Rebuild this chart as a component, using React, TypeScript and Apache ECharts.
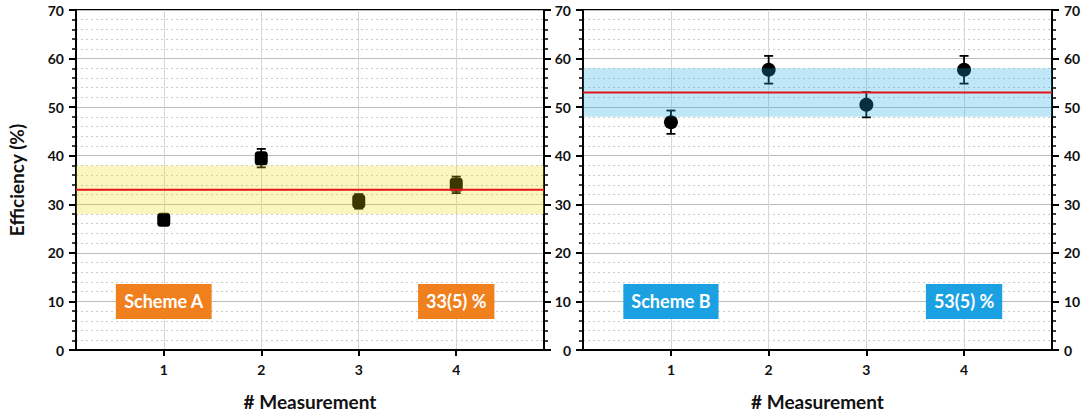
import React, { useEffect, useRef } from "react";
import * as echarts from "echarts";

const categories = [1, 2, 3, 4];
const schemeAValues = [26.8, 39.5, 30.6, 34.0];
const schemeAErrors = [0.8, 1.9, 1.5, 1.7];
const schemeBValues = [46.9, 57.7, 50.5, 57.7];
const schemeBErrors = [2.4, 2.85, 2.6, 2.85];
const schemeAMean = 33;
const schemeABand = [28, 38];
const schemeBMean = 53;
const schemeBBand = [48, 58];
const schemeALabels = ["Scheme A", "33(5) %"];
const schemeBLabels = ["Scheme B", "53(5) %"];
const yTicks = [0, 10, 20, 30, 40, 50, 60, 70];
const X_MIN = 0.1;
const X_MAX = 4.9;

const FONT = "Lato, 'Open Sans', sans-serif";

export default function App() {
  const ref = useRef<HTMLDivElement>(null);
  useEffect(() => {
    const chart = echarts.init(ref.current!, null, { renderer: "svg" });

    const yAxisBase = (gridIndex: number, position: string, showLabels: boolean, withName: boolean) => ({
      type: "value",
      gridIndex,
      position,
      min: yTicks[0],
      max: yTicks[yTicks.length - 1],
      interval: 10,
      name: withName ? "Efficiency (%)" : "",
      nameLocation: "middle",
      nameGap: 50,
      nameTextStyle: { fontFamily: FONT, fontWeight: "bold", fontSize: 19, color: "#111" },
      axisLine: { show: true, lineStyle: { color: "#000", width: 2 } },
      axisTick: { show: true, inside: false, length: 7, lineStyle: { color: "#000", width: 2 } },
      minorTick: { show: true, splitNumber: 5, length: 4, lineStyle: { color: "#000", width: 1.5 } },
      axisLabel: {
        show: showLabels,
        margin: 12,
        fontFamily: FONT,
        fontWeight: "bold",
        fontSize: 14,
        color: "#111",
      },
      splitLine: position === "left" ? { show: true, lineStyle: { color: "#bdbdbd", width: 1 } } : { show: false },
      minorSplitLine: position === "left" ? { show: true, lineStyle: { color: "#cccccc", width: 1, type: [2, 3] } } : { show: false },
    });

    const xAxisBase = (gridIndex: number) => ({
      type: "value",
      gridIndex,
      min: X_MIN,
      max: X_MAX,
      name: "# Measurement",
      nameLocation: "middle",
      nameGap: 42,
      nameTextStyle: { fontFamily: FONT, fontWeight: "bold", fontSize: 19, color: "#111" },
      axisLine: { show: true, onZero: false, lineStyle: { color: "#000", width: 2 } },
      axisTick: { show: true, inside: false, length: 6, customValues: categories, lineStyle: { color: "#000", width: 2 } },
      axisLabel: {
        customValues: categories,
        margin: 12,
        fontFamily: FONT,
        fontWeight: "bold",
        fontSize: 14,
        color: "#111",
      },
      splitLine: { show: true, lineStyle: { color: "#d6d6d6", width: 1 } },
      minorTick: { show: false },
    });

    const errorSeries = (idx: number, values: number[], errs: number[]) => ({
      type: "custom",
      xAxisIndex: idx,
      yAxisIndex: idx * 2,
      z: 2,
      silent: true,
      data: categories.map((c, i) => [c, values[i], values[i] - errs[i], values[i] + errs[i]]),
      renderItem: (params: any, api: any) => {
        const x = api.value(0);
        const lo = api.coord([x, api.value(2)]);
        const hi = api.coord([x, api.value(3)]);
        const half = 4.5;
        const style = { stroke: "#000", lineWidth: 1.8 };
        return {
          type: "group",
          children: [
            { type: "line", shape: { x1: lo[0], y1: lo[1], x2: hi[0], y2: hi[1] }, style },
            { type: "line", shape: { x1: lo[0] - half, y1: lo[1], x2: lo[0] + half, y2: lo[1] }, style },
            { type: "line", shape: { x1: hi[0] - half, y1: hi[1], x2: hi[0] + half, y2: hi[1] }, style },
          ],
        };
      },
    });

    const bandSeries = (idx: number, mean: number, band: number[], color: string) => ({
      type: "custom",
      xAxisIndex: idx,
      yAxisIndex: idx * 2,
      z: 4,
      silent: true,
      data: [[mean, band[0], band[1]]],
      renderItem: (params: any, api: any) => {
        const p1 = api.coord([X_MIN, api.value(2)]);
        const p2 = api.coord([X_MAX, api.value(1)]);
        const m1 = api.coord([X_MIN, api.value(0)]);
        const m2 = api.coord([X_MAX, api.value(0)]);
        return {
          type: "group",
          children: [
            { type: "rect", shape: { x: p1[0], y: p1[1], width: p2[0] - p1[0], height: p2[1] - p1[1] }, style: { fill: color } },
            { type: "line", shape: { x1: m1[0], y1: m1[1], x2: m2[0], y2: m2[1] }, style: { stroke: "#e3161c", lineWidth: 2 } },
          ],
        };
      },
    });

    const labelSeries = (idx: number, texts: string[], bg: string) => ({
      type: "scatter",
      xAxisIndex: idx,
      yAxisIndex: idx * 2,
      z: 6,
      silent: true,
      symbolSize: 0,
      itemStyle: { opacity: 1 },
      data: [
        { value: [categories[0], 10], name: texts[0] },
        { value: [categories[3], 10], name: texts[1] },
      ],
      label: {
        show: true,
        position: "inside",
        opacity: 1,
        formatter: (p: any) => p.name,
        backgroundColor: bg,
        color: "#fff",
        fontFamily: FONT,
        fontWeight: "bold",
        fontSize: 18,
        lineHeight: 21,
        padding: [7, 8],
      },
    });

    chart.setOption({
      animation: false,
      backgroundColor: "#fff",
      grid: [
        { left: 76, top: 10, width: 468, height: 343, show: true, borderColor: "#000", borderWidth: 2, backgroundColor: "transparent" },
        { left: 583, top: 10, width: 469, height: 343, show: true, borderColor: "#000", borderWidth: 2, backgroundColor: "transparent" },
      ],
      xAxis: [xAxisBase(0), xAxisBase(1)],
      yAxis: [
        yAxisBase(0, "left", true, true),
        yAxisBase(0, "right", false, false),
        yAxisBase(1, "left", true, false),
        yAxisBase(1, "right", true, false),
      ],
      series: [
        errorSeries(0, schemeAValues, schemeAErrors),
        {
          type: "scatter",
          xAxisIndex: 0,
          yAxisIndex: 0,
          z: 3,
          symbol: "roundRect",
          symbolSize: [13, 14],
          itemStyle: { color: "#000", opacity: 1 },
          data: categories.map((c, i) => [c, schemeAValues[i]]),
        },
        bandSeries(0, schemeAMean, schemeABand, "rgba(240,214,0,0.25)"),
        labelSeries(0, schemeALabels, "#f0801e"),
        errorSeries(1, schemeBValues, schemeBErrors),
        {
          type: "scatter",
          xAxisIndex: 1,
          yAxisIndex: 2,
          z: 3,
          symbol: "circle",
          symbolSize: 14,
          itemStyle: { color: "#000", opacity: 1 },
          data: categories.map((c, i) => [c, schemeBValues[i]]),
        },
        bandSeries(1, schemeBMean, schemeBBand, "rgba(30,170,225,0.28)"),
        labelSeries(1, schemeBLabels, "#1ba1e2"),
      ],
    });
    return () => chart.dispose();
  }, []);
  return <div ref={ref} style={{ position: "absolute", left: 0, top: 0, width: 1084, height: 416 }} />;
}
